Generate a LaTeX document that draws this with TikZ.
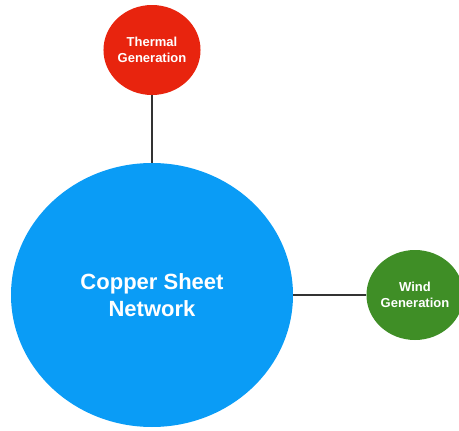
\documentclass[tikz,border=0pt]{standalone}
\usepackage{fontspec}
\setmainfont{Liberation Sans}
\usetikzlibrary{shapes.geometric}
\definecolor{netblue}{HTML}{0A9CF6}
\definecolor{thermred}{HTML}{E8240E}
\definecolor{windgreen}{HTML}{3F8E26}
\definecolor{linegray}{HTML}{333333}
\tikzset{
  bubble/.style={ellipse, inner sep=0pt, text=white, align=center, font=\bfseries},
  link/.style={draw=linegray, line width=2.2pt}
}
\begin{document}
\begin{tikzpicture}[x=1pt,y=-1pt]
\useasboundingbox (0,0) rectangle (459,431);
\node[bubble, fill=netblue, minimum width=282pt, minimum height=264pt,
      font=\bfseries\fontsize{22}{27}\selectfont] (copper) at (152,295) {Copper Sheet\\Network};
\node[bubble, fill=thermred, minimum width=94pt, minimum height=90pt,
      font=\bfseries\fontsize{13}{15.5}\selectfont] (thermal) at (152,50) {Thermal\\Generation};
\node[bubble, fill=windgreen, minimum width=94pt, minimum height=90pt,
      font=\bfseries\fontsize{13}{15.5}\selectfont] (wind) at (415,295) {Wind\\Generation};
\draw[link] (thermal) -- (copper);
\draw[link] (copper) -- (wind);
\end{tikzpicture}
\end{document}
